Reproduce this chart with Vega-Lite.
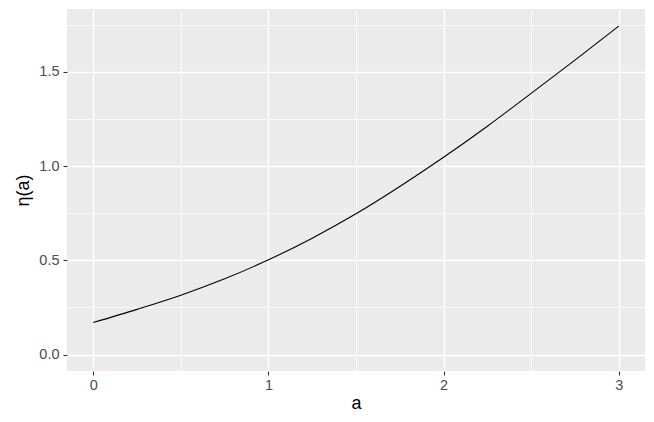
{
  "$schema": "https://vega.github.io/schema/vega-lite/v6.json",
  "width": 578,
  "height": 362,
  "autosize": {"type": "none"},
  "padding": {"left": 67, "top": 9, "right": 9, "bottom": 51},
  "background": "white",
  "config": {
    "view": {"fill": "#ebebeb", "stroke": null},
    "font": "Liberation Sans"
  },
  "data": {
    "values": [
      {"a": 0, "eta": 0.17},
      {"a": 0.25, "eta": 0.24},
      {"a": 0.5, "eta": 0.315},
      {"a": 0.75, "eta": 0.402},
      {"a": 1, "eta": 0.503},
      {"a": 1.25, "eta": 0.618},
      {"a": 1.5, "eta": 0.747},
      {"a": 1.75, "eta": 0.892},
      {"a": 2, "eta": 1.047},
      {"a": 2.25, "eta": 1.212},
      {"a": 2.5, "eta": 1.386},
      {"a": 2.75, "eta": 1.563},
      {"a": 3, "eta": 1.743}
    ]
  },
  "mark": {"type": "line", "color": "black", "strokeWidth": 1.1, "interpolate": "monotone"},
  "encoding": {
    "x": {
      "field": "a",
      "type": "quantitative",
      "scale": {"domain": [-0.15, 3.15], "nice": false, "zero": false},
      "axis": {
        "title": "a",
        "titleFont": "Liberation Sans",
        "titleFontSize": 18,
        "titleFontWeight": "normal",
        "titleColor": "black",
        "titlePadding": 3,
        "values": [0, 0.5, 1, 1.5, 2, 2.5, 3],
        "labelExpr": "datum.value % 1 === 0 ? format(datum.value, 'd') : ''",
        "labelFontSize": 14.5,
        "labelColor": "#4d4d4d",
        "labelPadding": 3,
        "domain": false,
        "tickColor": "#333333",
        "tickSize": 4,
        "tickWidth": 1.1,
        "tickOpacity": {"condition": {"test": "datum.value % 1 !== 0", "value": 0}, "value": 1},
        "grid": true,
        "gridColor": "white",
        "gridOpacity": 1,
        "gridWidth": {"condition": {"test": "datum.value % 1 !== 0", "value": 0.7}, "value": 1.4}
      }
    },
    "y": {
      "field": "eta",
      "type": "quantitative",
      "scale": {"domain": [-0.087, 1.834], "nice": false, "zero": false},
      "axis": {
        "title": "η(a)",
        "titleFont": "Liberation Sans",
        "titleFontSize": 18,
        "titleFontWeight": "normal",
        "titleColor": "black",
        "titlePadding": 6,
        "values": [0, 0.25, 0.5, 0.75, 1, 1.25, 1.5, 1.75],
        "labelExpr": "(datum.value * 2) % 1 === 0 ? format(datum.value, '.1f') : ''",
        "labelFontSize": 14.5,
        "labelColor": "#4d4d4d",
        "labelPadding": 4,
        "domain": false,
        "tickColor": "#333333",
        "tickSize": 4,
        "tickWidth": 1.1,
        "tickOpacity": {"condition": {"test": "(datum.value * 2) % 1 !== 0", "value": 0}, "value": 1},
        "grid": true,
        "gridColor": "white",
        "gridOpacity": 1,
        "gridWidth": {"condition": {"test": "(datum.value * 2) % 1 !== 0", "value": 0.7}, "value": 1.4}
      }
    }
  }
}
